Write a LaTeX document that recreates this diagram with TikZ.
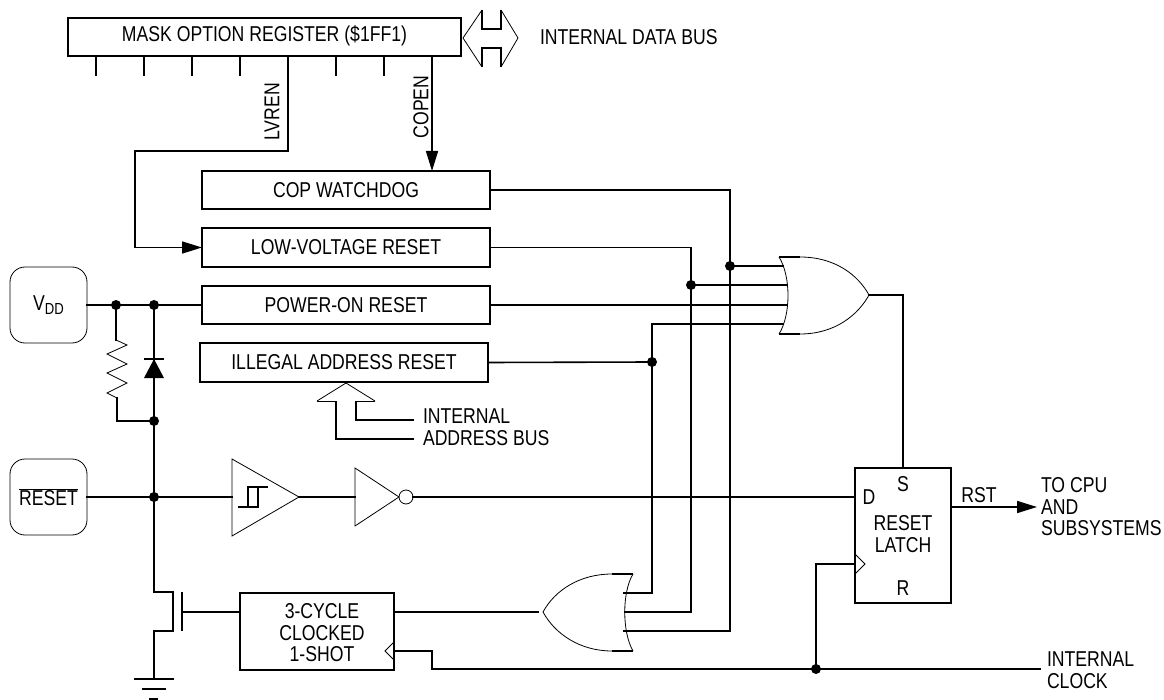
\documentclass[tikz,border=0pt]{standalone}
\usepackage{fontspec}
\setmainfont{Liberation Sans}[FakeStretch=0.82]
\usetikzlibrary{arrows.meta}
\tikzset{
  wire/.style={line width=1.6pt,line cap=rect,line join=miter},
  thinline/.style={line width=0.8pt,line join=miter},
  arrowwire/.style={wire,-{Triangle[length=20pt,width=12pt]}},
  box/.style={draw,line width=1.6pt,rectangle,inner sep=0pt,outer sep=0pt,font=\fontsize{21.5}{22}\selectfont},
  pad/.style={draw,line width=0.8pt,rectangle,rounded corners=15pt,minimum width=77pt,minimum height=76pt,inner sep=0pt,outer sep=0pt,font=\fontsize{21.5}{22}\selectfont},
  lbl/.style={inner sep=0pt,outer sep=0pt,font=\fontsize{21.5}{21.5}\selectfont,align=left},
  dot/.style={circle,fill=black,draw=none,minimum size=10pt,inner sep=0pt,outer sep=0pt}
}
\begin{document}
\begin{tikzpicture}[x=1pt,y=-1pt]
\useasboundingbox (0,0) rectangle (1164,700);

% blocks
\node[box,minimum width=393pt,minimum height=38pt] (mask) at (264.5,37) {\raisebox{7pt}{MASK OPTION REGISTER (\$1FF1)}};
\node[box,minimum width=288pt,minimum height=38pt] (cop) at (346,190) {COP WATCHDOG};
\node[box,minimum width=288pt,minimum height=39pt] (lvr) at (346,247.5) {LOW-VOLTAGE RESET};
\node[box,minimum width=288pt,minimum height=38pt] (por) at (346,305) {POWER-ON RESET};
\node[box,minimum width=288pt,minimum height=39pt] (iar) at (344,362.5) {ILLEGAL ADDRESS RESET};
\node[box,minimum width=154pt,minimum height=77pt] (oneshot) at (317,631.5) {};
\node[lbl,align=center] (oneshottxt) at (322,633) {3-CYCLE\\CLOCKED\\1-SHOT};
\node[box,minimum width=96pt,minimum height=135pt] (latch) at (903,535.5) {};
\node[lbl,align=center] (latchtxt) at (903,534) {RESET\\LATCH};
\node[lbl] (latchS) at (903,484) {S};
\node[lbl] (latchD) at (869,497) {D};
\node[lbl] (latchR) at (903,588) {R};
\node[pad] (vdd) at (48.5,305) {V\raisebox{-4pt}{\fontsize{16}{16}\selectfont DD}};
\node[pad] (rstpad) at (48.5,497) {$\overline{\mbox{RESET}}$};

% labels
\node[lbl,anchor=west] (databus) at (540,37) {INTERNAL DATA BUS};
\node[lbl,anchor=west] (addrbus1) at (423,416) {INTERNAL};
\node[lbl,anchor=west] (addrbus2) at (423,438) {ADDRESS BUS};
\node[lbl,rotate=90] (lvrenl) at (272,112) {LVREN};
\node[lbl,rotate=90] (copenl) at (421,107) {COPEN};
\node[lbl] (rstl) at (979,495) {RST};
\node[lbl,anchor=west] (tocpu) at (1041,507) {TO CPU\\AND\\SUBSYSTEMS};
\node[lbl,anchor=west] (intclk) at (1047,670) {INTERNAL\\CLOCK};

% junctions and pins
\coordinate (n1) at (116,305);
\coordinate (n2) at (154,305);
\coordinate (n3) at (154,421);
\coordinate (n4) at (154,497);
\coordinate (n5) at (730,266);
\coordinate (n6) at (691,285);
\coordinate (n7) at (652,362);
\coordinate (n8) at (816,669);
\coordinate (lvrenpin) at (288,56);
\coordinate (copenpin) at (432,56);
\coordinate (or1a) at (783,266);
\coordinate (or1b) at (787,285);
\coordinate (or1c) at (787,305);
\coordinate (or1d) at (783,324);
\coordinate (or1y) at (869,295);
\coordinate (or2a) at (624,593);
\coordinate (or2b) at (625,612);
\coordinate (or2c) at (624,631);
\coordinate (or2y) at (538,612);
\coordinate (schin) at (232,497);
\coordinate (schout) at (299,497);
\coordinate (invin) at (355,497);
\coordinate (invout) at (413,497);
\coordinate (latchDpin) at (855,497);
\coordinate (latchclk) at (855,564);
\coordinate (shotclk) at (394,651);
\coordinate (gate) at (182,612);
\coordinate (drain) at (173,592);
\coordinate (source) at (173,631);
\coordinate (gnd) at (154,679);
\coordinate (clkend) at (1040,669);
\coordinate (rstend) at (1037,507);

% mask register stubs
\foreach \x in {96,144,192,240,336,384}
  \draw[wire,line cap=butt] (\x,56) -- (\x,76);

% register outputs
\draw[arrowwire] (lvrenpin) |- (135,151) |- (lvr.west);
\draw[arrowwire] (copenpin) -- (copenpin |- cop.north);

% reset sources to OR
\draw[wire] (cop.east) -| (730,631) -- (or2c);
\draw[wire] (lvr.east) -| (691,612) -- (or2b);
\draw[wire] (iar.east) -- (n7);
\draw[wire] (652,324) -- (652,593) -- (or2a);
\draw[wire] (652,324) -- (or1d);
\draw[wire] (n5) -- (or1a);
\draw[wire] (n6) -- (or1b);
\draw[wire] (por.east) -- (or1c);
\draw[wire] (vdd.east) -- (por.west);

% OR gate 1
\draw[thinline] (800,257) .. controls (835,257) and (858,275) .. (869,295) .. controls (858,315) and (835,334) .. (800,334);
\draw[thinline] (779,257) .. controls (791,276) and (791,315) .. (779,334);
\draw[wire,line cap=butt] (779,257) -- (800,257);
\draw[wire,line cap=butt] (779,334) -- (800,334);
\draw[wire] (or1y) -| (latch.north);

% OR gate 2
\draw[thinline] (612,574) .. controls (580,574) and (555,590) .. (543,612) .. controls (555,634) and (580,651) .. (612,651);
\draw[thinline] (633,574) .. controls (622,592) and (622,632) .. (633,651);
\draw[wire,line cap=butt] (612,574) -- (633,574);
\draw[wire,line cap=butt] (612,651) -- (633,651);
\draw[wire] (oneshot.east |- or2y) -- (or2y);

% internal data bus
\draw[thinline] (482,10) -- (463,38) -- (482,67);
\draw[thinline] (501,10) -- (518,38) -- (501,67);
\draw[wire,line cap=butt] (482,10) -- (482,29) -- (501,29) -- (501,10);
\draw[wire,line cap=butt] (482,67) -- (482,48) -- (501,48) -- (501,67);

% internal address bus
\draw[thinline] (317,401) -- (346,383) -- (375,401);
\draw[thinline] (317,401) -- (336,401);
\draw[thinline] (375,401) -- (356,401);
\draw[wire,line cap=butt] (336,401) -- (336,439) -- (414,439);
\draw[wire,line cap=butt] (356,401) -- (356,420) -- (414,420);

% vdd network
\draw[wire] (n1) -- (116,340);
\draw[thinline] (116,340) -- (127,345) -- (107,354) -- (127,364) -- (107,373) -- (127,383) -- (107,393) -- (117,398);
\draw[wire] (117,398) -- (117,421) -- (n3);
\draw[wire] (n2) -- (154,592) -- (drain);
\draw[wire,line cap=butt] (144,359) -- (164,359);
\fill (154,359) -- (164,378) -- (144,378) -- cycle;

% reset input chain
\draw[wire] (rstpad.east) -- (schin);
\draw[thinline] (232,459) -- (299,497) -- (232,536) -- cycle;
\draw[wire,line cap=butt] (238,507) -- (258,507) -- (258,487) -- (268,487);
\draw[wire,line cap=butt] (248,507) -- (248,487) -- (258,487);
\draw[wire] (schout) -- (invin);
\draw[thinline] (355,468) -- (399,497) -- (355,526) -- cycle;
\draw[thinline] (406,497) circle[radius=7pt];
\draw[wire] (invout) -- (latchDpin);

% transistor and ground
\draw[wire,line cap=butt] (drain) -- (source);
\draw[wire,line cap=butt] (182,592) -- (182,631);
\draw[wire] (gate) -- (oneshot.west |- gate);
\draw[wire] (source) -- (154,631) -- (gnd);
\draw[wire,line cap=butt] (134,679) -- (174,679);
\draw[wire,line cap=butt] (142,689) -- (166,689);
\draw[wire,line cap=butt] (149,699) -- (158,699);

% clock
\draw[wire] (clkend) -- (432,669) -- (432,651) -- (shotclk);
\draw[thinline] (394,642) -- (385,651) -- (394,660);
\draw[wire] (n8) -- (816,564) -- (latchclk);
\draw[thinline] (855,554) -- (865,564) -- (855,574);

% latch output
\draw[arrowwire] (latch.east |- rstend) -- (rstend);

% dots
\foreach \n in {n1,n2,n3,n4,n5,n6,n7,n8} \node[dot] at (\n) {};
\end{tikzpicture}
\end{document}
